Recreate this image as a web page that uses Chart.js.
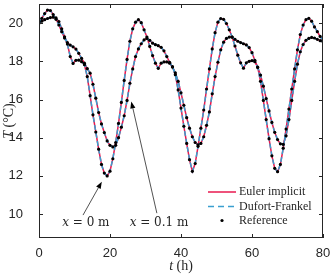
<!DOCTYPE html>
<html>
<head>
<meta charset="utf-8">
<script src="https://cdn.jsdelivr.net/npm/chart.js@4.4.1/dist/chart.umd.min.js"></script>
<style>
  html, body { margin: 0; padding: 0; background: #fff; }
  #wrap { width: 332px; height: 276px; }
</style>
</head>
<body>
<div id="wrap"><canvas id="chart"></canvas></div>
<script>
// time (h), one sample every 0.8 h
const hours = [
  0, 0.8, 1.6, 2.4, 3.2, 4, 4.8, 5.6, 6.4, 7.2,
  8, 8.8, 9.6, 10.4, 11.2, 12, 12.8, 13.6, 14.4, 15.2,
  16, 16.8, 17.6, 18.4, 19.2, 20, 20.8, 21.6, 22.4, 23.2,
  24, 24.8, 25.6, 26.4, 27.2, 28, 28.8, 29.6, 30.4, 31.2,
  32, 32.8, 33.6, 34.4, 35.2, 36, 36.8, 37.6, 38.4, 39.2,
  40, 40.8, 41.6, 42.4, 43.2, 44, 44.8, 45.6, 46.4, 47.2,
  48, 48.8, 49.6, 50.4, 51.2, 52, 52.8, 53.6, 54.4, 55.2,
  56, 56.8, 57.6, 58.4, 59.2, 60, 60.8, 61.6, 62.4, 63.2,
  64, 64.8, 65.6, 66.4, 67.2, 68, 68.8, 69.6, 70.4, 71.2,
  72, 72.8, 73.6, 74.4, 75.2, 76, 76.8, 77.6, 78.4, 79.2,
  80
];

// temperature at x = 0 m (deg C)
const tempSurface = [
  20.00, 20.25, 20.50, 20.68, 20.66, 20.45, 20.20, 19.90, 19.55, 19.22,
  18.90, 18.25, 17.89, 18.05, 18.06, 17.98, 17.82, 17.20, 16.20, 15.20,
  14.30, 13.40, 12.60, 12.15, 12.00, 12.25, 12.90, 13.75, 14.75, 15.85,
  17.00, 18.10, 19.05, 19.70, 20.05, 20.18, 20.02, 19.65, 19.27, 18.78,
  18.30, 17.90, 17.63, 17.90, 17.97, 17.97, 17.90, 17.72, 17.30, 16.50,
  15.55, 14.60, 13.70, 12.85, 12.24, 12.65, 13.55, 14.50, 15.45, 16.55,
  17.60, 18.65, 19.50, 20.05, 20.24, 20.20, 19.98, 19.65, 19.27, 18.80,
  18.32, 17.92, 17.64, 17.92, 18.00, 18.04, 17.98, 17.70, 16.95, 15.95,
  14.95, 13.95, 13.05, 12.40, 12.22, 12.60, 13.45, 14.45, 15.50, 16.55,
  17.60, 18.60, 19.40, 19.90, 20.18, 20.25, 20.10, 19.80, 19.55, 19.30,
  19.10
];

// temperature at x = 0.1 m (deg C)
const tempDeep = [
  20.00, 20.10, 20.18, 20.24, 20.29, 20.31, 20.27, 20.08, 19.70, 19.28,
  18.98, 18.85, 18.76, 18.64, 18.42, 18.15, 17.90, 17.62, 17.38, 16.80,
  16.07, 15.32, 14.72, 14.27, 13.83, 13.60, 13.52, 13.60, 14.00, 14.55,
  15.15, 15.95, 16.85, 17.60, 18.25, 18.65, 18.92, 19.12, 19.20, 19.10,
  18.95, 18.87, 18.82, 18.73, 18.55, 18.25, 17.95, 17.70, 17.40, 16.95,
  16.35, 15.70, 15.05, 14.50, 14.05, 13.75, 13.63, 13.70, 14.05, 14.65,
  15.35, 16.30, 17.20, 17.95, 18.60, 19.00, 19.20, 19.27, 19.27, 19.15,
  19.05, 18.98, 18.92, 18.86, 18.72, 18.45, 18.05, 17.68, 17.28, 16.70,
  16.05, 15.40, 14.80, 14.28, 13.90, 13.68, 13.65, 14.10, 14.95, 15.95,
  16.95, 17.85, 18.50, 18.88, 19.10, 19.20, 19.25, 19.22, 19.15, 19.08,
  19.03
];

const xTicks = [0, 20, 40, 60, 80];
const yTicks = [10, 12, 14, 16, 18, 20];
const methodNames = ['Euler implicit', 'Dufort-Frankel', 'Reference'];

const ink = '#262626';
const eulerColor = '#e8194f';
const dufortColor = '#3a9fd0';
const serif = '"Liberation Serif", "DejaVu Serif", serif';
const sans = '"Liberation Sans", Arial, sans-serif';

function asPoints(temps) {
  return hours.map((h, i) => ({ x: h, y: temps[i] }));
}

function lineSet(name, temps, color, dash, order) {
  return {
    label: name, data: asPoints(temps), borderColor: color, borderWidth: 1.5,
    borderDash: dash, pointRadius: 0, tension: 0, fill: false, order: order
  };
}

function dotSet(name, temps) {
  return {
    label: name, data: asPoints(temps), showLine: false, pointRadius: 1.6,
    pointBackgroundColor: '#000', pointBorderWidth: 0, order: 0
  };
}

// text made of [string, italic] pieces
function drawPieces(ctx, pieces, x, y, font, align) {
  let total = 0;
  pieces.forEach(p => {
    ctx.font = (p[1] ? 'italic ' : '') + font;
    total += ctx.measureText(p[0]).width;
  });
  let cx = align === 'center' ? x - total / 2 : x;
  ctx.textAlign = 'left';
  ctx.textBaseline = 'middle';
  pieces.forEach(p => {
    ctx.font = (p[1] ? 'italic ' : '') + font;
    ctx.fillText(p[0], cx, y);
    cx += ctx.measureText(p[0]).width;
  });
}

function drawArrow(ctx, x0, y0, x1, y1) {
  const a = Math.atan2(y1 - y0, x1 - x0);
  const len = 7, half = 2.6;
  const bx = x1 - len * Math.cos(a), by = y1 - len * Math.sin(a);
  ctx.strokeStyle = ink;
  ctx.lineWidth = 0.8;
  ctx.beginPath();
  ctx.moveTo(x0, y0);
  ctx.lineTo(bx, by);
  ctx.stroke();
  ctx.fillStyle = '#000';
  ctx.beginPath();
  ctx.moveTo(x1, y1);
  ctx.lineTo(bx + half * Math.sin(a), by - half * Math.cos(a));
  ctx.lineTo(bx - half * Math.sin(a), by + half * Math.cos(a));
  ctx.closePath();
  ctx.fill();
}

// arrow notes, in axis units
const notes = [
  { depth: '0', tail: [12.4, 9.95], tip: [17.7, 11.7], label: [13.2, 9.55] },
  { depth: '0.1', tail: [33.2, 10.05], tip: [26.0, 15.9], label: [33.8, 9.55] }
];

const framePlugin = {
  id: 'frame',
  afterDraw(chart) {
    const ctx = chart.ctx;
    const a = chart.chartArea;
    const xs = chart.scales.x, ys = chart.scales.y;
    ctx.save();

    // box and inward ticks
    ctx.strokeStyle = ink;
    ctx.lineWidth = 1;
    ctx.strokeRect(a.left + 0.5, a.top + 0.5, a.right - a.left - 1, a.bottom - a.top - 1);
    ctx.beginPath();
    xTicks.forEach(v => {
      const px = Math.round(xs.getPixelForValue(v)) + 0.5;
      ctx.moveTo(px, a.bottom); ctx.lineTo(px, a.bottom - 4);
      ctx.moveTo(px, a.top); ctx.lineTo(px, a.top + 4);
    });
    yTicks.forEach(v => {
      const py = Math.round(ys.getPixelForValue(v)) + 0.5;
      ctx.moveTo(a.left, py); ctx.lineTo(a.left + 4, py);
      ctx.moveTo(a.right, py); ctx.lineTo(a.right - 4, py);
    });
    ctx.stroke();

    // axis titles
    ctx.fillStyle = ink;
    drawPieces(ctx, [['t', true], [' (h)', false]], (a.left + a.right) / 2, 266, '14px ' + serif, 'center');
    ctx.save();
    ctx.translate(9, (a.top + a.bottom) / 2);
    ctx.rotate(-Math.PI / 2);
    drawPieces(ctx, [['T', true], [' (\u00B0C)', false]], 0, 0, '14px ' + serif, 'center');
    ctx.restore();

    // arrows and their labels
    const noteFont = '12px "DejaVu Serif", serif';
    notes.forEach(n => {
      drawArrow(ctx, xs.getPixelForValue(n.tail[0]), ys.getPixelForValue(n.tail[1]),
                xs.getPixelForValue(n.tip[0]), ys.getPixelForValue(n.tip[1]));
      ctx.fillStyle = ink;
      drawPieces(ctx, [['x', true], [' = ' + n.depth + ' m', false]],
                 xs.getPixelForValue(n.label[0]), ys.getPixelForValue(n.label[1]), noteFont, 'center');
    });

    // legend
    const lx = a.right - 115, tx = a.right - 84;
    const rows = [a.bottom - 46, a.bottom - 31.5, a.bottom - 17.5];
    ctx.lineWidth = 1.5;
    ctx.strokeStyle = eulerColor;
    ctx.setLineDash([]);
    ctx.beginPath(); ctx.moveTo(lx, rows[0]); ctx.lineTo(lx + 28, rows[0]); ctx.stroke();
    ctx.strokeStyle = dufortColor;
    ctx.setLineDash([6, 4]);
    ctx.beginPath(); ctx.moveTo(lx, rows[1]); ctx.lineTo(lx + 28, rows[1]); ctx.stroke();
    ctx.setLineDash([]);
    ctx.fillStyle = '#000';
    ctx.beginPath(); ctx.arc(lx + 14, rows[2], 1.6, 0, Math.PI * 2); ctx.fill();
    ctx.fillStyle = ink;
    methodNames.forEach((name, i) => drawPieces(ctx, [[name, false]], tx, rows[i], '12px ' + serif, 'left'));

    ctx.restore();
  }
};

new Chart(document.getElementById('chart'), {
  type: 'line',
  data: {
    datasets: [
      lineSet(methodNames[0], tempSurface, eulerColor, [], 2),
      lineSet(methodNames[0], tempDeep, eulerColor, [], 2),
      lineSet(methodNames[1], tempSurface, dufortColor, [5, 3], 1),
      lineSet(methodNames[1], tempDeep, dufortColor, [5, 3], 1),
      dotSet(methodNames[2], tempSurface),
      dotSet(methodNames[2], tempDeep)
    ]
  },
  options: {
    responsive: true,
    maintainAspectRatio: false,
    animation: false,
    layout: { padding: { top: 2, right: 9, left: 0, bottom: 0 } },
    plugins: { legend: { display: false }, tooltip: { enabled: false } },
    scales: {
      x: {
        type: 'linear', min: 0, max: 80,
        afterBuildTicks: s => { s.ticks = xTicks.map(v => ({ value: v })); },
        afterFit: s => { s.height = 38; s.paddingLeft = 0; s.paddingRight = 0; },
        grid: { display: false },
        border: { display: false },
        ticks: { color: ink, font: { family: sans, size: 13 }, padding: 0, maxRotation: 0 }
      },
      y: {
        min: 8.75, max: 21,
        afterBuildTicks: s => { s.ticks = yTicks.map(v => ({ value: v })); },
        afterFit: s => { s.width = 39; s.paddingTop = 0; s.paddingBottom = 0; },
        grid: { display: false },
        border: { display: false },
        ticks: { color: ink, font: { family: sans, size: 13 }, padding: 8 }
      }
    }
  },
  plugins: [framePlugin]
});
</script>
</body>
</html>
